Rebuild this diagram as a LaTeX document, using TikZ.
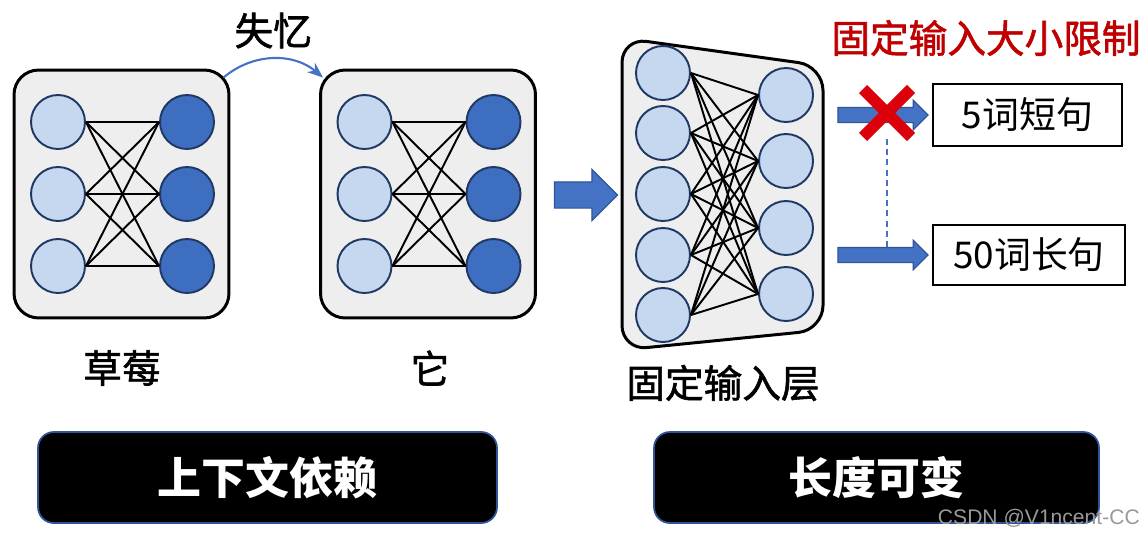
\documentclass[tikz,border=0pt]{standalone}
\usepackage{fontspec}
\setmainfont{Noto Sans CJK SC}
\newfontfamily\medfont[FakeBold=1.5]{Noto Sans CJK SC}
\newfontfamily\markfont{Liberation Sans}
\usepackage{tikz}
\usetikzlibrary{shapes.geometric, shapes.arrows, arrows.meta, positioning, calc}

\definecolor{lightblue}{RGB}{197,216,240}
\definecolor{darkblue}{RGB}{62,110,192}
\definecolor{navyline}{RGB}{31,56,100}
\definecolor{panelgray}{RGB}{238,238,238}
\definecolor{arrowblue}{RGB}{68,114,196}
\definecolor{arrowedge}{RGB}{47,85,151}
\definecolor{warnred}{RGB}{192,0,0}
\definecolor{crossred}{RGB}{220,0,10}

\begin{document}
\begin{tikzpicture}[x=0.02cm, y=-0.02cm,
  neuron/.style={circle, draw=navyline, line width=1.1pt, minimum size=1.08cm, inner sep=0pt},
  lnode/.style={neuron, fill=lightblue},
  dnode/.style={neuron, fill=darkblue},
  panel/.style={draw, line width=1.7pt, fill=panelgray, rounded corners=14pt},
  link/.style={line width=1.1pt},
  cjktext/.style={font=\medfont\fontsize{22}{26}\selectfont},
  fatarrow/.style={single arrow, fill=arrowblue, draw=arrowedge, line width=0.7pt, inner xsep=0pt},
  wordbox/.style={draw, line width=1.4pt, fill=white, inner sep=0pt, font=\fontsize{21}{25}\selectfont},
  tagbox/.style={draw=arrowedge, line width=1pt, fill=black, rounded corners=9pt, text=white,
    minimum height=1.82cm, font=\fontsize{25}{30}\selectfont\bfseries}
]
\useasboundingbox (0,0) rectangle (1148,538);

% Context panels
\node[panel, minimum width=4.3cm, minimum height=4.96cm] (ctxa) at (121.5,194) {};
\node[panel, minimum width=4.3cm, minimum height=4.96cm] (ctxb) at (428,194) {};

\foreach \r/\yy in {1/122, 2/194, 3/266} {
  \node[lnode] (al\r) at (58,\yy) {};
  \node[dnode] (ar\r) at (187,\yy) {};
  \node[lnode] (bl\r) at (364.5,\yy) {};
  \node[dnode] (br\r) at (493.5,\yy) {};
}
\foreach \i in {1,2,3} {
  \foreach \j in {1,2,3} {
    \draw[link] (al\i.east) -- (ar\j.west);
    \draw[link] (bl\i.east) -- (br\j.west);
  }
}

\node[cjktext] (berry) at (122,368) {草莓};
\node[cjktext] (pron) at (430,368) {它};

% Forgetting arrow
\draw[-{Stealth[length=9pt, width=7pt]}, arrowblue, line width=1.2pt]
  ($(ctxa.north east)+(-7,9)$) to[bend left=40] node[above=2pt, cjktext, text=black] (forget) {失忆}
  ($(ctxb.north west)+(4,9)$);

% Fixed input layer
\node[fatarrow, inner ysep=0.25cm, single arrow head extend=0.25cm, minimum height=1.26cm] (bigarrow) at (579.5,195) {};

\draw[panel] (622,38) -- (823,66) -- (823,330) -- (622,350) -- cycle;

\foreach \r/\yy in {1/73, 2/133, 3/194, 4/255, 5/315} {
  \node[lnode] (cl\r) at (663,\yy) {};
}
\foreach \r/\yy in {1/95, 2/161, 3/228, 4/294} {
  \node[lnode] (cr\r) at (786,\yy) {};
}
\foreach \i in {1,...,5} {
  \foreach \j in {1,...,4} {
    \draw[link] (cl\i.east) -- (cr\j.west);
  }
}
\node[cjktext] (fixed) at (723,383) {固定输入层};

% Size limit
\node[font=\medfont\fontsize{22}{26}\selectfont, text=warnred] (limit) at (986,38) {固定输入大小限制};

\node[wordbox, minimum width=3.78cm, minimum height=1.24cm] (short5) at (1027.5,115) {5词短句};
\node[wordbox, minimum width=3.84cm, minimum height=1.2cm] (long50) at (1029,255) {50词长句};

\node[fatarrow, inner ysep=0.14cm, single arrow head extend=0.14cm, minimum height=1.8cm] (arr5) [left=0.06cm of short5] {};
\node[fatarrow, inner ysep=0.14cm, single arrow head extend=0.14cm, minimum height=1.8cm] (arr50) [left=0.06cm of long50] {};

\coordinate (xmark) at (887,113);
\draw[arrowblue, dashed, dash pattern=on 3.4pt off 2.4pt, line width=1.1pt]
  ($(xmark)+(0,26)$) -- (xmark |- arr50.north);
\draw[crossred, line width=6.5pt] ($(xmark)+(-24,-24)$) -- ($(xmark)+(24,24)$);
\draw[crossred, line width=6.5pt] ($(xmark)+(-24,24)$) -- ($(xmark)+(24,-24)$);

% Tags
\node[tagbox, minimum width=9.18cm] (tagctx) at (267.5,477.5) {上下文依赖};
\node[tagbox, minimum width=8.9cm] (taglen) at (876.5,477.5) {长度可变};

\node[anchor=east, text=gray!80, font=\markfont\fontsize{12}{14}\selectfont] (mark) at (1146,518) {CSDN @V1ncent-CC};
\end{tikzpicture}
\end{document}
